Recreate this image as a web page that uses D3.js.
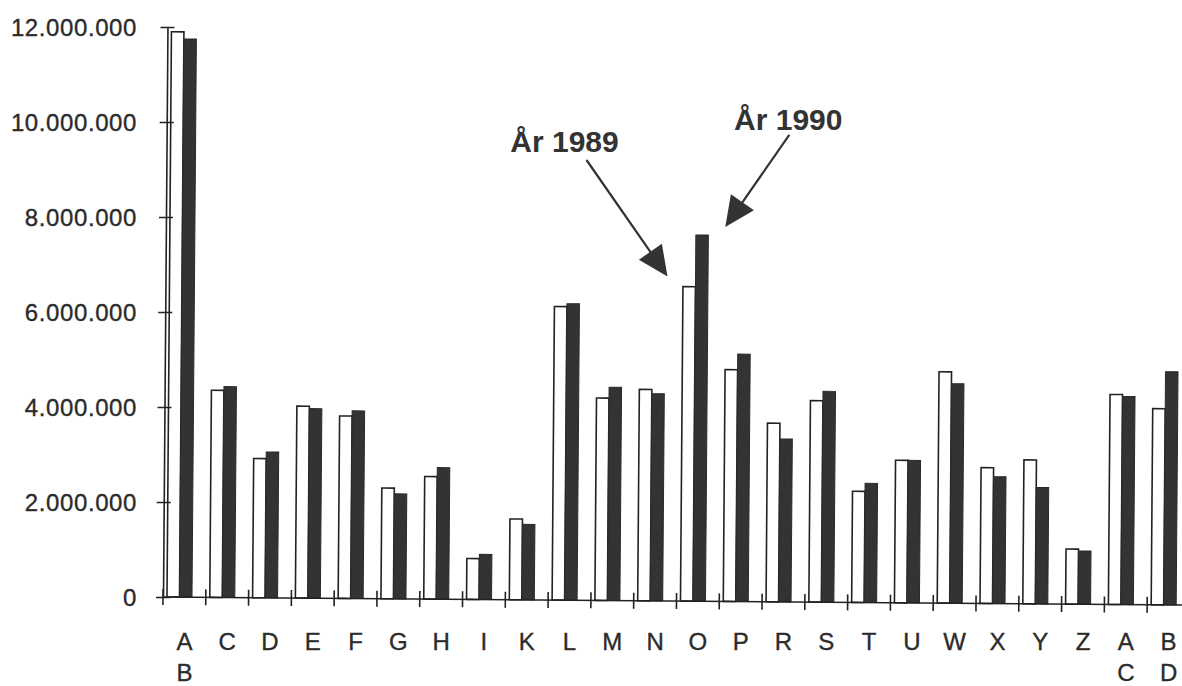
<!DOCTYPE html>
<html>
<head>
<meta charset="utf-8">
<script src="https://cdn.jsdelivr.net/npm/d3@7"></script>
<style>
  body { margin: 0; background: #fff; }
  svg { display: block; }
  text { font-family: "Liberation Sans", Arial, Helvetica, sans-serif; fill: #2b2b2b; }
</style>
</head>
<body>
<script>
// categories (two-letter ones are written on two lines)
var categories = ['AB', 'C', 'D', 'E', 'F', 'G', 'H', 'I', 'K', 'L', 'M', 'N',
                  'O', 'P', 'R', 'S', 'T', 'U', 'W', 'X', 'Y', 'Z', 'AC', 'BD'];

// values
var values1989 = [11900000, 4360000, 2930000, 4040000, 3840000, 2330000, 2580000, 860000,
                  1700000, 6180000, 4260000, 4450000, 6620000, 4880000, 3760000, 4240000,
                  2340000, 3000000, 4870000, 2860000, 3030000, 1160000, 4420000, 4130000];
var values1990 = [11750000, 4440000, 3070000, 3990000, 3950000, 2210000, 2770000, 950000,
                  1590000, 6240000, 4490000, 4360000, 7710000, 5210000, 3430000, 4440000,
                  2510000, 3000000, 4620000, 2670000, 2450000, 1120000, 4380000, 4910000];

var yTicks = [0, 2000000, 4000000, 6000000, 8000000, 10000000, 12000000];
var seriesNames = ['1989', '1990'];
var noteLabels = ['År 1989', 'År 1990'];

var svg = d3.select('body').append('svg')
      .attr('width', 1182)
      .attr('height', 686);

// the scanned original is tilted a little (the plot, not the labels)
var chart = svg.append('g').attr('transform', 'rotate(0.45,163,597)');
var flat = svg.append('g');

var x = d3.scaleBand().domain(categories).range([163, 1190]);
var xs = d3.scaleBand().domain(seriesNames).range([4, 29]);
var y = d3.scaleLinear().domain([0, 12000000]).range([597, 27]);

var fmt = d3.formatLocale({decimal: ',', thousands: '.', grouping: [3], currency: ['', '']}).format(',d');

var rows = categories.map(function(c, i) {
  return {cat: c, v89: values1989[i], v90: values1990[i]};
});

// bars
chart.selectAll('.bar89')
  .data(rows)
  .enter()
  .append('rect')
  .classed('bar89', true)
  .attr('x', function(d) { return x(d.cat) + xs('1989'); })
  .attr('y', function(d) { return y(d.v89); })
  .attr('width', xs.bandwidth())
  .attr('height', function(d) { return y(0) - y(d.v89); })
  .style('fill', '#fff')
  .style('stroke', '#222')
  .style('stroke-width', 1.6);

chart.selectAll('.bar90')
  .data(rows)
  .enter()
  .append('rect')
  .classed('bar90', true)
  .attr('x', function(d) { return x(d.cat) + xs('1990'); })
  .attr('y', function(d) { return y(d.v90); })
  .attr('width', xs.bandwidth())
  .attr('height', function(d) { return y(0) - y(d.v90); })
  .style('fill', '#333')
  .style('stroke', '#2a2a2a')
  .style('stroke-width', 1);

// y axis, ticks cross the line
var yAxis = chart.append('g')
  .attr('transform', 'translate(163,0)')
  .call(d3.axisLeft(y).tickValues(yTicks).tickFormat('').tickSize(7).tickSizeOuter(0));
yAxis.select('.domain').style('stroke', '#222').style('stroke-width', 1.6);
yAxis.selectAll('.tick line').attr('x1', 7).attr('x2', -7).style('stroke', '#222').style('stroke-width', 1.6);

// y labels stay level
flat.selectAll('.ylabel')
  .data(yTicks)
  .enter()
  .append('text')
  .attr('x', 137)
  .attr('y', function(d) { return y(d); })
  .attr('dy', '0.36em')
  .attr('text-anchor', 'end')
  .style('font-size', '24px')
  .style('letter-spacing', '0.6px')
  .style('stroke', '#2b2b2b')
  .style('stroke-width', 0.35)
  .text(fmt);

// x axis line and ticks between the groups
chart.append('line')
  .attr('x1', x.range()[0]).attr('x2', x.range()[1] + 10)
  .attr('y1', y(0)).attr('y2', y(0))
  .style('stroke', '#222').style('stroke-width', 1.6);

chart.selectAll('.xtick')
  .data(categories)
  .enter()
  .append('line')
  .attr('x1', function(d) { return x(d); })
  .attr('x2', function(d) { return x(d); })
  .attr('y1', y(0) - 8).attr('y2', y(0) + 8)
  .style('stroke', '#222').style('stroke-width', 1.6);

var labels = flat.selectAll('.xlabel')
  .data(categories)
  .enter()
  .append('text')
  .attr('text-anchor', 'middle')
  .style('font-size', '24px')
  .style('stroke', '#2b2b2b')
  .style('stroke-width', 0.35)
  .attr('transform', function(d) { return 'translate(' + (x(d) + x.bandwidth() / 2) + ',650)'; });

labels.selectAll('tspan')
  .data(function(d) { return d.split(''); })
  .enter()
  .append('tspan')
  .attr('x', 0)
  .attr('y', function(d, i) { return i * 31; })
  .text(function(d) { return d; });

// annotations with arrows
var notes = [
  {label: noteLabels[0], tip: [x('O') - 9, y(6750000)], tail: [x('O') - 90, y(9200000)], text: [x('O') - 112, y(9370000)]},
  {label: noteLabels[1], tip: [x('P') + 6, y(7790000)], tail: [x('P') + 70, y(9730000)], text: [x('P') + 69, y(9830000)]}
];

notes.forEach(function(n) {
  var dx = n.tip[0] - n.tail[0], dy = n.tip[1] - n.tail[1];
  var len = Math.sqrt(dx * dx + dy * dy);
  var ux = dx / len, uy = dy / len;
  var hl = 30, hw = 14;
  var bx = n.tip[0] - ux * hl, by = n.tip[1] - uy * hl;

  flat.append('line')
    .attr('x1', n.tail[0]).attr('y1', n.tail[1])
    .attr('x2', bx + ux * 4).attr('y2', by + uy * 4)
    .style('stroke', '#333').style('stroke-width', 2.2);

  flat.append('polygon')
    .attr('points', [
      [n.tip[0], n.tip[1]],
      [bx - uy * hw, by + ux * hw],
      [bx + uy * hw, by - ux * hw]
    ].map(function(p) { return p.join(','); }).join(' '))
    .style('fill', '#333');

  flat.append('text')
    .attr('x', n.text[0]).attr('y', n.text[1])
    .attr('text-anchor', 'middle')
    .style('font-size', '30px')
    .style('font-weight', 'bold')
    .style('fill', '#333')
    .text(n.label);
});
</script>
</body>
</html>
